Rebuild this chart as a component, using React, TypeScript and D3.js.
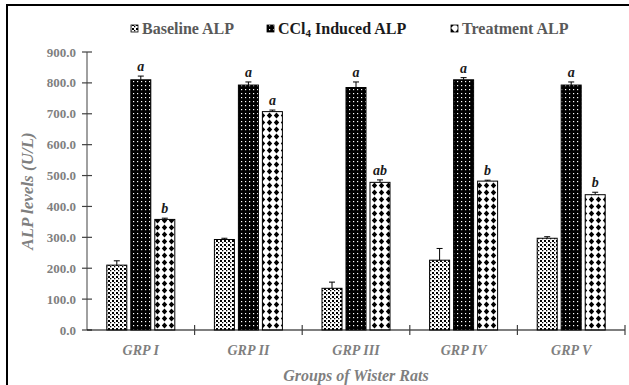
import * as d3 from 'd3';

const groups = ['GRP I', 'GRP II', 'GRP III', 'GRP IV', 'GRP V'];
const seriesNames = ['Baseline ALP', 'CCl4 Induced ALP', 'Treatment ALP'];
const baseline = [210, 293, 135, 226, 297];
const baselineErr = [14, 4, 20, 38, 5];
const induced = [810, 793, 785, 810, 793];
const inducedErr = [12, 10, 18, 7, 10];
const treatment = [358, 707, 478, 482, 438];
const treatmentErr = [4, 5, 8, 3, 8];
const inducedLetters = ['a', 'a', 'a', 'a', 'a'];
const treatmentLetters = ['b', 'a', 'ab', 'b', 'b'];
const yTicks = [0, 100, 200, 300, 400, 500, 600, 700, 800, 900];

const W = 629;
const H = 385;
const margin = { top: 52, right: 4, bottom: 55, left: 87 };
const serif = '"Liberation Serif", "Times New Roman", serif';
const fills = ['url(#pBase)', 'url(#pInd)', 'url(#pTreat)'];

const App = () => {
  const x = d3
    .scaleBand()
    .domain(groups)
    .range([margin.left, W - margin.right])
    .padding(0);
  const y = d3
    .scaleLinear()
    .domain([0, 900])
    .range([H - margin.bottom, margin.top]);

  const barW = 20;
  const offsets = [-24, 0, 24];
  const series = [
    { values: baseline, err: baselineErr, letters: null as string[] | null },
    { values: induced, err: inducedErr, letters: inducedLetters },
    { values: treatment, err: treatmentErr, letters: treatmentLetters },
  ];

  const y0 = y(0);

  return (
    <svg width={W} height={H} style={{ display: 'block', position: 'absolute', left: 0, top: 0 }}>
      <defs>
        <pattern id="pBase" width="4" height="4" patternUnits="userSpaceOnUse">
          <rect width="4" height="4" fill="#fff" />
          <rect x="0" y="0" width="2" height="2" fill="#000" />
          <rect x="2" y="2" width="1.3" height="1.3" fill="#000" />
        </pattern>
        <pattern id="pInd" width="4" height="4" patternUnits="userSpaceOnUse">
          <rect width="4" height="4" fill="#000" />
          <rect x="1" y="1" width="1.2" height="1.2" fill="#fff" />
        </pattern>
        <pattern id="pTreat" width="7" height="7" patternUnits="userSpaceOnUse">
          <rect width="7" height="7" fill="#fff" />
          <path d="M3.5,0.6 L6.2,3.5 L3.5,6.4 L0.8,3.5 Z" fill="#000" />
        </pattern>
      </defs>
      <rect x={0} y={0} width={W} height={H} fill="#fff" />
      {/* outer border */}
      <rect x={7} y={5} width={W} height={H} fill="none" stroke="#000" strokeWidth={2} />

      {/* legend */}
      {[
        { sq: 131, label: 'Baseline ALP', color: '#595959' },
        { sq: 267, label: 'CCl', color: '#1a1a1a' },
        { sq: 451, label: 'Treatment ALP', color: '#595959' },
      ].map((l, i) => (
        <g key={i}>
          <rect x={l.sq} y={25} width={7} height={7} fill={fills[i]} stroke="#000" strokeWidth={0.8} />
          <text x={l.sq + 11} y={34} fontFamily={serif} fontWeight="bold" fontSize={16} fill={l.color}>
            {i === 1 ? (
              <>
                CCl<tspan fontSize={11} dy={3}>4</tspan>
                <tspan dy={-3}> Induced ALP</tspan>
              </>
            ) : (
              l.label
            )}
          </text>
        </g>
      ))}

      {/* y axis */}
      <line x1={margin.left} x2={margin.left} y1={y(900)} y2={y0} stroke="#808080" strokeWidth={1.5} />
      {yTicks.map(t => (
        <g key={t}>
          <line x1={margin.left - 5} x2={margin.left + 5} y1={y(t)} y2={y(t)} stroke="#404040" strokeWidth={1.2} />
          <text
            x={76}
            y={y(t)}
            dy="0.35em"
            textAnchor="end"
            fontFamily={serif}
            fontWeight="bold"
            fontSize={13}
            fill="#7f7f7f"
          >
            {t.toFixed(1)}
          </text>
        </g>
      ))}

      {/* bars */}
      {groups.map((g, gi) => {
        const cx = (x(g) ?? 0) + x.bandwidth() / 2;
        return (
          <g key={g}>
            {series.map((s, si) => {
              const v = s.values[gi];
              const e = s.err[gi];
              const bx = cx + offsets[si] - barW / 2;
              const top = y(v);
              const etop = y(v + e);
              const letter = s.letters ? s.letters[gi] : null;
              return (
                <g key={si}>
                  <line x1={bx + barW / 2} x2={bx + barW / 2} y1={top} y2={etop} stroke="#000" strokeWidth={1} />
                  <line x1={bx + barW / 2 - 3} x2={bx + barW / 2 + 3} y1={etop} y2={etop} stroke="#000" strokeWidth={1} />
                  <rect x={bx} y={top} width={barW} height={y0 - top} fill={fills[si]} stroke="#000" strokeWidth={1} />
                  {letter && (
                    <text
                      x={bx + barW / 2}
                      y={etop - 5}
                      textAnchor="middle"
                      fontFamily={serif}
                      fontStyle="italic"
                      fontWeight="bold"
                      fontSize={14}
                      fill="#1a1a1a"
                    >
                      {letter}
                    </text>
                  )}
                </g>
              );
            })}
          </g>
        );
      })}

      {/* x axis */}
      <line x1={margin.left} x2={W - margin.right} y1={y0} y2={y0} stroke="#000" strokeWidth={1.2} />
      {groups.map((g, i) => (
        <line
          key={'t' + i}
          x1={(x(g) ?? 0) + x.bandwidth()}
          x2={(x(g) ?? 0) + x.bandwidth()}
          y1={y0 - 5}
          y2={y0 + 5}
          stroke="#404040"
          strokeWidth={1.2}
        />
      ))}
      {groups.map(g => (
        <text
          key={g}
          x={(x(g) ?? 0) + x.bandwidth() / 2}
          y={355}
          textAnchor="middle"
          fontFamily={serif}
          fontStyle="italic"
          fontWeight="bold"
          fontSize={14}
          fill="#7f7f7f"
        >
          {g}
        </text>
      ))}

      {/* axis titles */}
      <text
        x={356}
        y={381}
        textAnchor="middle"
        fontFamily={serif}
        fontStyle="italic"
        fontWeight="bold"
        fontSize={16}
        fill="#7f7f7f"
      >
        Groups of Wister Rats
      </text>
      <text
        transform={`translate(33,${(y(900) + y0) / 2}) rotate(-90)`}
        textAnchor="middle"
        fontFamily={serif}
        fontStyle="italic"
        fontWeight="bold"
        fontSize={17}
        fill="#7f7f7f"
      >
        ALP levels (U/L)
      </text>
    </svg>
  );
};

export default App;
